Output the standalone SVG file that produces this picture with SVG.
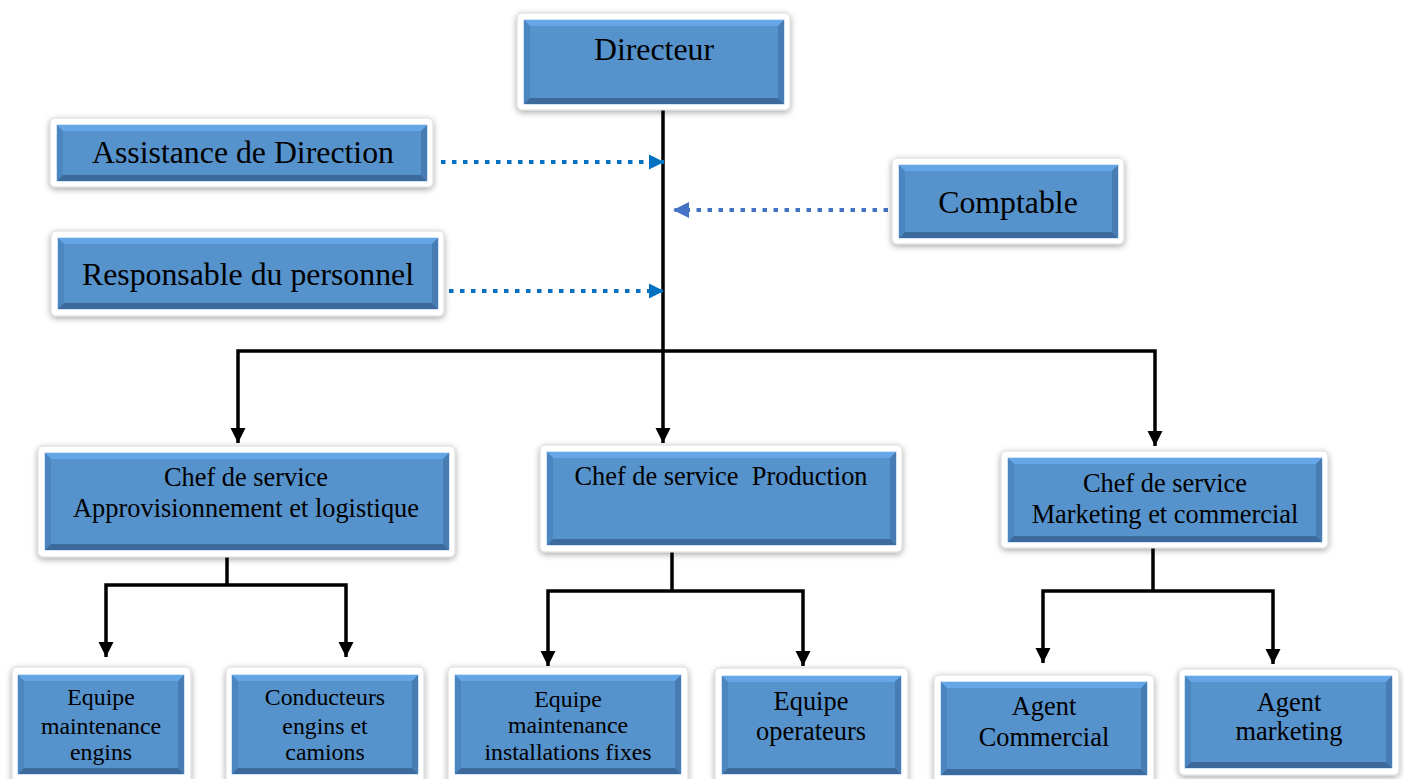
<svg xmlns="http://www.w3.org/2000/svg" width="1404" height="779" viewBox="0 0 1404 779">
  <defs>
    <filter id="shadow" x="-10%" y="-20%" width="120%" height="150%">
      <feDropShadow dx="0" dy="2" stdDeviation="3" flood-color="#000" flood-opacity="0.35"/>
    </filter>
    <marker id="arrowBlack" viewBox="0 0 10 10" refX="10" refY="5" markerUnits="userSpaceOnUse" markerWidth="15" markerHeight="16" orient="auto-start-reverse">
      <path d="M0,0 L10,5 L0,10 z" fill="#000"/>
    </marker>
    <marker id="arrowBlue" viewBox="0 0 10 10" refX="10" refY="5" markerUnits="userSpaceOnUse" markerWidth="15" markerHeight="16" orient="auto">
      <path d="M0,0 L10,5 L0,10 z" fill="#0070C0"/>
    </marker>
    <marker id="arrowSlate" viewBox="0 0 10 10" refX="10" refY="5" markerUnits="userSpaceOnUse" markerWidth="16" markerHeight="16" orient="auto">
      <path d="M0,0 L10,5 L0,10 z" fill="#4472C4"/>
    </marker>
  </defs>
  <style>
    .frame { fill: #fff; stroke: #d9d9d9; stroke-width: 1; filter: url(#shadow); }
    .face { fill: #5692CB; stroke: #8fbbe6; stroke-width: 0.8; }
    .bt { fill: #64A6E6; }
    .bl { fill: #4B86C0; }
    .br { fill: #477DB3; }
    .bb { fill: #3C6A9C; }
    text { font-family: "Liberation Serif", "Times New Roman", serif; fill: #000; text-anchor: middle; }
    .t1 { font-size: 31.8px; }
    .t2 { font-size: 26.4px; }
    .t3 { font-size: 23.8px; }
    .t4 { font-size: 26.4px; }
    .solid { fill: none; stroke: #000; stroke-width: 3.5; }
    .dotA { fill: none; stroke: #0070C0; stroke-width: 4; stroke-dasharray: 4.5 6.5; }
    .dotB { fill: none; stroke: #4472C4; stroke-width: 4; stroke-dasharray: 4.5 6.5; }
  </style>

  <rect width="1404" height="779" fill="#fff"/>

  <!-- connectors -->
  <g id="connectors">
    <path class="solid" d="M663,110 V443" marker-end="url(#arrowBlack)"/>
    <path class="solid" d="M238,443 V351 H1155 V446" marker-start="url(#arrowBlack)" marker-end="url(#arrowBlack)"/>
    <path class="solid" d="M227,557 V585"/>
    <path class="solid" d="M106,657 V585 H346 V657" marker-start="url(#arrowBlack)" marker-end="url(#arrowBlack)"/>
    <path class="solid" d="M672,552 V591"/>
    <path class="solid" d="M548,666 V591 H803 V666" marker-start="url(#arrowBlack)" marker-end="url(#arrowBlack)"/>
    <path class="solid" d="M1153,548 V591"/>
    <path class="solid" d="M1043,663 V591 H1273 V664" marker-start="url(#arrowBlack)" marker-end="url(#arrowBlack)"/>
    <path class="dotA" d="M441,162 H664" marker-end="url(#arrowBlue)"/>
    <path class="dotA" d="M449,291 H664" marker-end="url(#arrowBlue)"/>
    <path class="dotB" d="M888,210 H673" marker-end="url(#arrowSlate)"/>
  </g>

  <!-- Directeur -->
  <g id="directeur">
    <rect class="frame" x="517" y="13" width="273" height="97" rx="5"/>
    <rect class="face" x="524" y="20" width="260" height="84"/>
    <polygon class="bt" points="524,20 784,20 778,26 530,26"/>
    <polygon class="bl" points="524,20 530,26 530,98 524,104"/>
    <polygon class="br" points="784,20 778,26 778,98 784,104"/>
    <polygon class="bb" points="524,104 784,104 778,98 530,98"/>
    <text class="t1" x="654" y="60">Directeur</text>
  </g>

  <!-- Assistance de Direction -->
  <g id="assistance">
    <rect class="frame" x="50" y="118" width="383" height="69" rx="5"/>
    <rect class="face" x="57" y="125" width="370" height="56"/>
    <polygon class="bt" points="57,125 427,125 421,131 63,131"/>
    <polygon class="bl" points="57,125 63,131 63,175 57,181"/>
    <polygon class="br" points="427,125 421,131 421,175 427,181"/>
    <polygon class="bb" points="57,181 427,181 421,175 63,175"/>
    <text class="t1" x="243" y="163">Assistance de Direction</text>
  </g>

  <!-- Responsable du personnel -->
  <g id="responsable">
    <rect class="frame" x="51" y="231" width="393" height="85" rx="5"/>
    <rect class="face" x="58" y="238" width="380" height="71"/>
    <polygon class="bt" points="58,238 438,238 432,244 64,244"/>
    <polygon class="bl" points="58,238 64,244 64,303 58,309"/>
    <polygon class="br" points="438,238 432,244 432,303 438,309"/>
    <polygon class="bb" points="58,309 438,309 432,303 64,303"/>
    <text class="t1" x="248" y="285">Responsable du personnel</text>
  </g>

  <!-- Comptable -->
  <g id="comptable">
    <rect class="frame" x="892" y="158" width="232" height="86" rx="5"/>
    <rect class="face" x="899" y="165" width="219" height="73"/>
    <polygon class="bt" points="899,165 1118,165 1112,171 905,171"/>
    <polygon class="bl" points="899,165 905,171 905,232 899,238"/>
    <polygon class="br" points="1118,165 1112,171 1112,232 1118,238"/>
    <polygon class="bb" points="899,238 1118,238 1112,232 905,232"/>
    <text class="t1" x="1008" y="213">Comptable</text>
  </g>

  <!-- Chef de service Approvisionnement et logistique -->
  <g id="chef-appro">
    <rect class="frame" x="38" y="446" width="417" height="111" rx="5"/>
    <rect class="face" x="45" y="453" width="404" height="97"/>
    <polygon class="bt" points="45,453 449,453 443,459 51,459"/>
    <polygon class="bl" points="45,453 51,459 51,544 45,550"/>
    <polygon class="br" points="449,453 443,459 443,544 449,550"/>
    <polygon class="bb" points="45,550 449,550 443,544 51,544"/>
    <text class="t2" x="246" y="486">Chef de service</text>
    <text class="t2" x="246" y="517">Approvisionnement et logistique</text>
  </g>

  <!-- Chef de service Production -->
  <g id="chef-production">
    <rect class="frame" x="540" y="445" width="362" height="107" rx="5"/>
    <rect class="face" x="547" y="452" width="349" height="93"/>
    <polygon class="bt" points="547,452 896,452 890,458 553,458"/>
    <polygon class="bl" points="547,452 553,458 553,539 547,545"/>
    <polygon class="br" points="896,452 890,458 890,539 896,545"/>
    <polygon class="bb" points="547,545 896,545 890,539 553,539"/>
    <text class="t2" x="721" y="485" xml:space="preserve">Chef de service  Production</text>
  </g>

  <!-- Chef de service Marketing et commercial -->
  <g id="chef-marketing">
    <rect class="frame" x="1001" y="451" width="327" height="97" rx="5"/>
    <rect class="face" x="1008" y="458" width="314" height="84"/>
    <polygon class="bt" points="1008,458 1322,458 1316,464 1014,464"/>
    <polygon class="bl" points="1008,458 1014,464 1014,536 1008,542"/>
    <polygon class="br" points="1322,458 1316,464 1316,536 1322,542"/>
    <polygon class="bb" points="1008,542 1322,542 1316,536 1014,536"/>
    <text class="t2" x="1165" y="492">Chef de service</text>
    <text class="t2" x="1165" y="523">Marketing et commercial</text>
  </g>

  <!-- Equipe maintenance engins -->
  <g id="equipe-maint-engins">
    <rect class="frame" x="12" y="667" width="179" height="116" rx="5"/>
    <rect class="face" x="18" y="675" width="166" height="99"/>
    <polygon class="bt" points="18,675 184,675 178,681 24,681"/>
    <polygon class="bl" points="18,675 24,681 24,768 18,774"/>
    <polygon class="br" points="184,675 178,681 178,768 184,774"/>
    <polygon class="bb" points="18,774 184,774 178,768 24,768"/>
    <text class="t3" x="101" y="705">Equipe</text>
    <text class="t3" x="101" y="734">maintenance</text>
    <text class="t3" x="101" y="760">engins</text>
  </g>

  <!-- Conducteurs engins et camions -->
  <g id="conducteurs">
    <rect class="frame" x="226" y="667" width="198" height="116" rx="5"/>
    <rect class="face" x="232" y="675" width="186" height="99"/>
    <polygon class="bt" points="232,675 418,675 412,681 238,681"/>
    <polygon class="bl" points="232,675 238,681 238,768 232,774"/>
    <polygon class="br" points="418,675 412,681 412,768 418,774"/>
    <polygon class="bb" points="232,774 418,774 412,768 238,768"/>
    <text class="t3" x="325" y="705">Conducteurs</text>
    <text class="t3" x="325" y="734">engins et</text>
    <text class="t3" x="325" y="760">camions</text>
  </g>

  <!-- Equipe maintenance installations fixes -->
  <g id="equipe-maint-installations">
    <rect class="frame" x="448" y="667" width="240" height="116" rx="5"/>
    <rect class="face" x="455" y="675" width="226" height="99"/>
    <polygon class="bt" points="455,675 681,675 675,681 461,681"/>
    <polygon class="bl" points="455,675 461,681 461,768 455,774"/>
    <polygon class="br" points="681,675 675,681 675,768 681,774"/>
    <polygon class="bb" points="455,774 681,774 675,768 461,768"/>
    <text class="t3" x="568" y="707">Equipe</text>
    <text class="t3" x="568" y="733">maintenance</text>
    <text class="t3" x="568" y="760">installations fixes</text>
  </g>

  <!-- Equipe operateurs -->
  <g id="equipe-operateurs">
    <rect class="frame" x="715" y="668" width="193" height="115" rx="5"/>
    <rect class="face" x="722" y="676" width="179" height="98"/>
    <polygon class="bt" points="722,676 901,676 895,682 728,682"/>
    <polygon class="bl" points="722,676 728,682 728,768 722,774"/>
    <polygon class="br" points="901,676 895,682 895,768 901,774"/>
    <polygon class="bb" points="722,774 901,774 895,768 728,768"/>
    <text class="t4" x="811" y="710">Equipe</text>
    <text class="t4" x="811" y="740">operateurs</text>
  </g>

  <!-- Agent Commercial -->
  <g id="agent-commercial">
    <rect class="frame" x="934" y="675" width="220" height="110" rx="5"/>
    <rect class="face" x="941" y="682" width="206" height="93"/>
    <polygon class="bt" points="941,682 1147,682 1141,688 947,688"/>
    <polygon class="bl" points="941,682 947,688 947,769 941,775"/>
    <polygon class="br" points="1147,682 1141,688 1141,769 1147,775"/>
    <polygon class="bb" points="941,775 1147,775 1141,769 947,769"/>
    <text class="t4" x="1044" y="715">Agent</text>
    <text class="t4" x="1044" y="746">Commercial</text>
  </g>

  <!-- Agent marketing -->
  <g id="agent-marketing">
    <rect class="frame" x="1179" y="669" width="220" height="106" rx="5"/>
    <rect class="face" x="1185" y="676" width="207" height="92"/>
    <polygon class="bt" points="1185,676 1392,676 1386,682 1191,682"/>
    <polygon class="bl" points="1185,676 1191,682 1191,762 1185,768"/>
    <polygon class="br" points="1392,676 1386,682 1386,762 1392,768"/>
    <polygon class="bb" points="1185,768 1392,768 1386,762 1191,762"/>
    <text class="t4" x="1289" y="711">Agent</text>
    <text class="t4" x="1289" y="740">marketing</text>
  </g>
</svg>
